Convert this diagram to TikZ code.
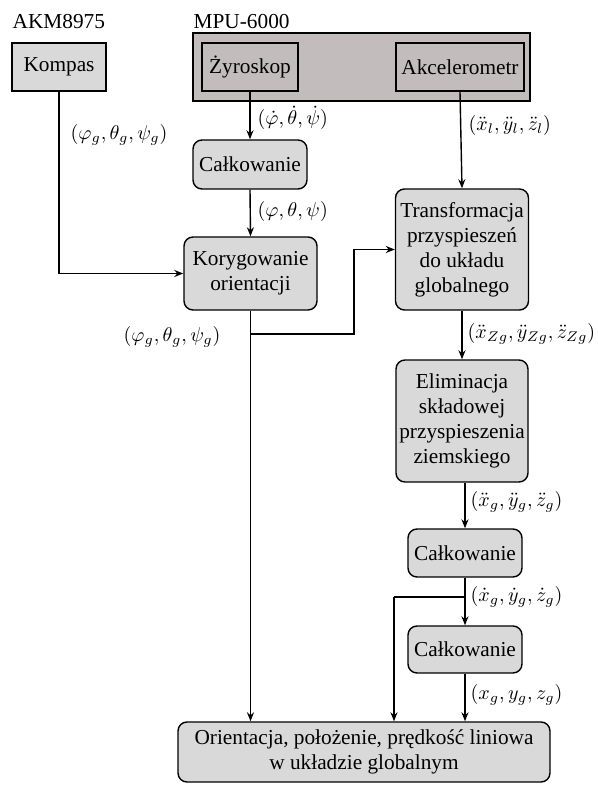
\documentclass[tikz,border=0pt]{standalone}
\usepackage{fontspec}
\setmainfont{Liberation Serif}
\usetikzlibrary{arrows.meta}
\definecolor{boxgray}{HTML}{D9D9D9}
\definecolor{mpugray}{HTML}{C2BCBC}
\begin{document}
\begin{tikzpicture}[x=0.5pt,y=-0.5pt,
  font=\fontsize{10.65}{12.5}\selectfont,
  line width=0.7pt,
  arr/.style={-{Stealth[length=4.5pt,width=3.5pt]}},
  sq/.style={draw, fill=boxgray, inner sep=0pt, align=center},
  rbox/.style={draw, fill=boxgray, rounded corners=4.5pt, inner sep=0pt, align=center},
  sens/.style={draw, fill=mpugray, line width=1.1pt, inner sep=0pt, align=center},
  lbl/.style={inner sep=0pt, anchor=west},
  mlbl/.style={inner sep=0pt, anchor=west, font=\fontsize{9.7}{12}\selectfont}]
\useasboundingbox (0,0) rectangle (598,786);
% titles
\node[lbl] (akm) at (12,22) {AKM8975};
\node[lbl] (mpulbl) at (193,22) {MPU-6000};
% sensors
\node[draw, fill=mpugray, minimum width=168.5pt, minimum height=34pt, inner sep=0pt] (mpu) at (361.5,67) {};
\node[sq, minimum width=47pt, minimum height=24pt] (kompas) at (59,67) {Kompas};
\node[sens, minimum width=48pt, minimum height=24pt] (zyro) at (250,67) {Żyroskop};
\node[sens, minimum width=64pt, minimum height=24pt] (akc) at (460,67) {Akcelerometr};
% processing
\node[rbox, minimum width=57pt, minimum height=24.5pt] (calk1) at (250,164.5) {Całkowanie};
\node[rbox, minimum width=66.5pt, minimum height=36.5pt] (kory) at (250.5,273.5) {Korygowanie\\orientacji};
\node[rbox, minimum width=66.5pt, minimum height=60.5pt] (trans) at (462,249.5) {Transformacja\\przyspieszeń\\do układu\\globalnego};
\node[rbox, minimum width=66pt, minimum height=61pt] (elim) at (462,421) {Eliminacja\\składowej\\przyspieszenia\\ziemskiego};
\node[rbox, minimum width=57pt, minimum height=24pt] (calk2) at (465,553) {Całkowanie};
\node[rbox, minimum width=57pt, minimum height=23.5pt] (calk3) at (465,649.5) {Całkowanie};
\node[rbox, minimum width=186pt, minimum height=30pt] (out) at (364,752) {Orientacja, położenie, prędkość liniowa\\w układzie globalnym};
% connectors
\draw[arr] (zyro.south) -- (calk1.north);
\draw[arr] (calk1.south) -- (kory.north);
\draw[arr] (kompas.south) |- (kory.west);
\draw[arr] (akc.south) -- (trans.north);
\draw[arr] (kory.south) -- (kory.south |- out.north);
\coordinate (b1) at (250.5,334);
\coordinate (k1) at (354,334);
\draw[arr] (b1) -- (k1) |- (trans.west);
\draw[arr] (trans.south) -- (elim.north);
\draw[arr] (calk2.north |- elim.south) -- (calk2.north);
\draw[arr] (calk2.south) -- (calk3.north);
\coordinate (b2) at (465,597);
\coordinate (b3) at (394,597);
\draw (b2) -- (b3);
\draw[arr] (b3) -- (b3 |- out.north);
\draw[arr] (calk3.south) -- (calk3.south |- out.north);
% labels
\node[mlbl] (l1) at (257,118) {$(\dot\varphi,\dot\theta,\dot\psi)$};
\node[mlbl] (l2) at (468,126) {$(\ddot x_l,\ddot y_l,\ddot z_l)$};
\node[mlbl] (l3) at (70,135) {$(\varphi_g,\theta_g,\psi_g)$};
\node[mlbl] (l4) at (257,212) {$(\varphi,\theta,\psi)$};
\node[mlbl] (l5) at (123,337) {$(\varphi_g,\theta_g,\psi_g)$};
\node[mlbl] (l6) at (467,334) {$(\ddot x_{Zg},\ddot y_{Zg},\ddot z_{Zg})$};
\node[mlbl] (l7) at (470,502) {$(\ddot x_g,\ddot y_g,\ddot z_g)$};
\node[mlbl] (l8) at (470,597) {$(\dot x_g,\dot y_g,\dot z_g)$};
\node[mlbl] (l9) at (470,695) {$(x_g,y_g,z_g)$};
\end{tikzpicture}
\end{document}
